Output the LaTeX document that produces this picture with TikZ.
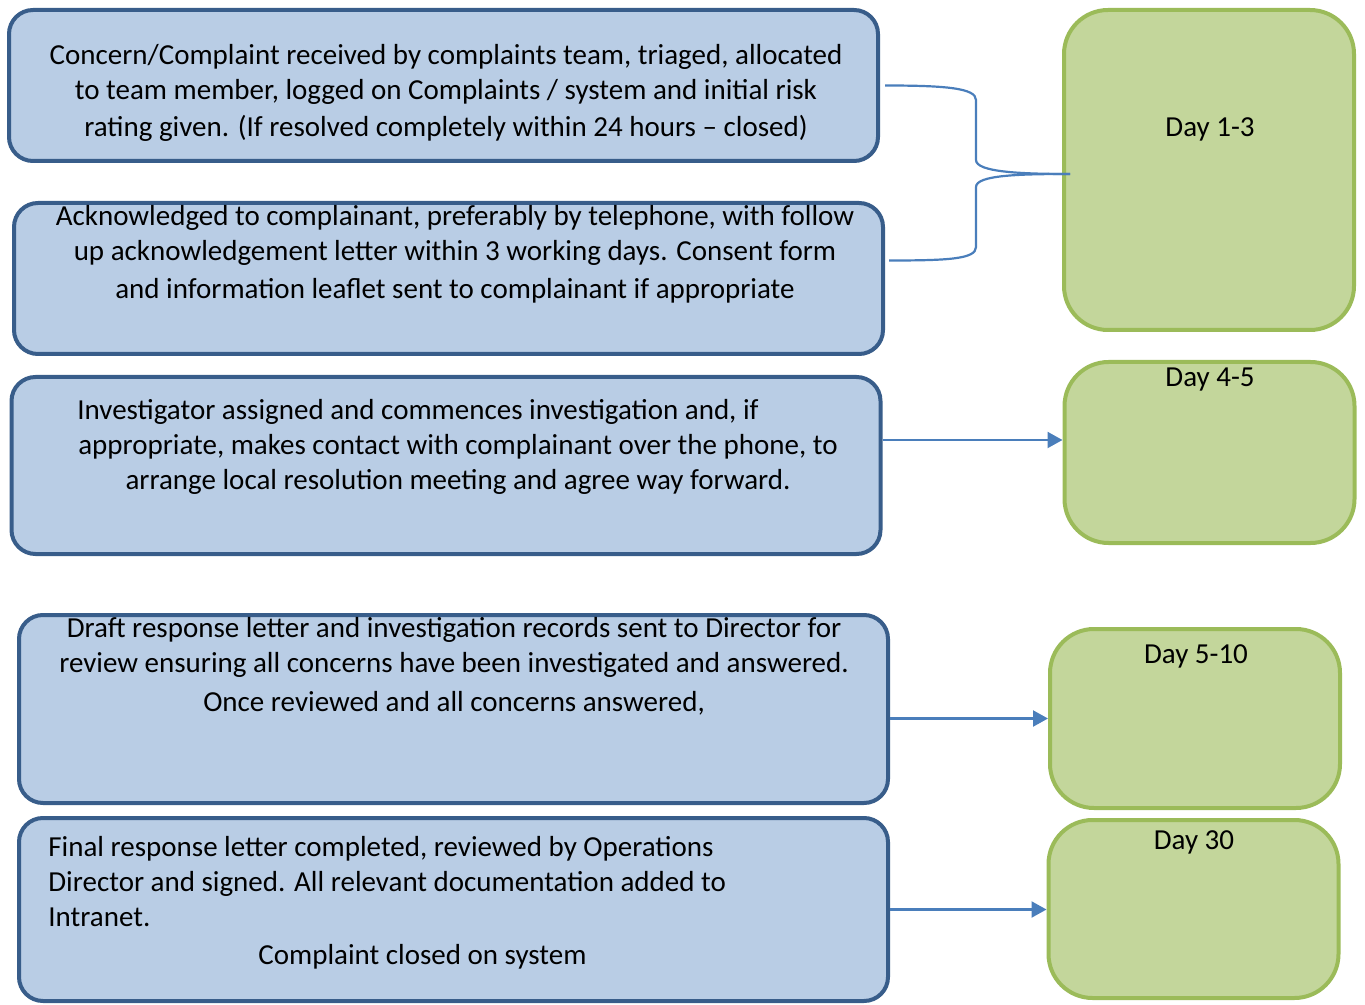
\documentclass[tikz,border=0pt]{standalone}
\usepackage{fontspec}
\setmainfont{Carlito}
\usetikzlibrary{arrows.meta}
\definecolor{boxblue}{HTML}{B9CDE5}
\definecolor{lineblue}{HTML}{385D8A}
\definecolor{boxgreen}{HTML}{C3D69B}
\definecolor{linegreen}{HTML}{9BBB59}
\definecolor{connblue}{HTML}{4A7EBB}
\begin{document}
\begin{tikzpicture}[x=0.5pt, y=-0.5pt]

      \tikzset{stage/.style={draw=lineblue, fill=boxblue, line width=2pt, rounded corners=12pt, minimum width=434.5pt},
               day/.style={draw=linegreen, fill=boxgreen, line width=2pt, rounded corners=22pt, minimum width=145pt},
               txt/.style={font=\fontsize{14.5}{17.5}\selectfont, inner sep=0pt, align=center},
               conn/.style={draw=connblue, line width=1.1pt},
               arr/.style={conn, -{Triangle[length=7.5pt,width=8pt]}}}
      \useasboundingbox (0,0) rectangle (1365,1005);
%% Stages
      	\node[stage, minimum height=75.5pt] (b1) at (443.5,85.5) {};
      	\node[stage, minimum height=75.5pt] (b2) at (448.5,278.5) {};
      	\node[stage, minimum height=88.5pt] (b3) at (446,465.5) {};
      	\node[stage, minimum height=94pt] (b4) at (453.5,709) {};
      	\node[stage, minimum height=91.5pt] (b5) at (453.5,909.5) {};
%% Days
      	\node[day, minimum height=160pt] (g1) at (1209,170) {};
      	\node[day, minimum height=90.5pt] (g2) at (1209.5,452.5) {};
      	\node[day, minimum height=89.5pt] (g3) at (1195,718.5) {};
      	\node[day, minimum height=89pt] (g4) at (1193.5,909) {};
%% Texts
      	\node[txt, anchor=north] (t1) at (446,44) {Concern/Complaint received by complaints team, triaged, allocated\\to team member, logged on Complaints / system and initial risk\\[1pt]rating given. (If resolved completely within 24 hours -- closed)};
      	\node[txt, anchor=north] (t2) at (455,205) {Acknowledged to complainant, preferably by telephone, with follow\\up acknowledgement letter within 3 working days. Consent form\\[1.5pt]and information leaflet sent to complainant if appropriate};
      	\node[txt, anchor=north] (t3) at (458,399) {Investigator assigned and commences investigation and, if\hspace*{40pt}\\appropriate, makes contact with complainant over the phone, to\\arrange local resolution meeting and agree way forward.};
      	\node[txt, anchor=north] (t4) at (454,617) {Draft response letter and investigation records sent to Director for\\review ensuring all concerns have been investigated and answered.\\[2pt]Once reviewed and all concerns answered,};
      	\node[txt, anchor=north west, align=left] (t5) at (48,836) {Final response letter completed, reviewed by Operations\\Director and signed. All relevant documentation added to\\Intranet.\\[1.5pt]\hspace*{105pt}Complaint closed on system};
      	\node[txt] (d1) at (1210,129) {Day 1-3};
      	\node[txt] (d2) at (1210,380) {Day 4-5};
      	\node[txt] (d3) at (1196,656) {Day 5-10};
      	\node[txt] (d4) at (1194,842) {Day 30};
%% Connectors
      	\coordinate (tip) at (1070,174);
		\path[conn] ([xshift=2.5pt]b1.east) .. controls +(60,0) and +(0,-12) .. (976,100) -- (976,160) .. controls +(0,12) and +(-50,0) .. (tip);
		\path[conn] ([xshift=2pt,yshift=9pt]b2.east) .. controls +(60,0) and +(0,12) .. (976,247) -- (976,187) .. controls +(0,-12) and +(-50,0) .. (tip);
		\path[arr] (b3.east |- 0,440) -- (g2.west |- 0,440);
		\path[arr] (b4.east |- g3.west) -- (g3.west);
		\path[arr] (b5.east) -- (b5.east -| g4.west);

	\end{tikzpicture}
\end{document}
